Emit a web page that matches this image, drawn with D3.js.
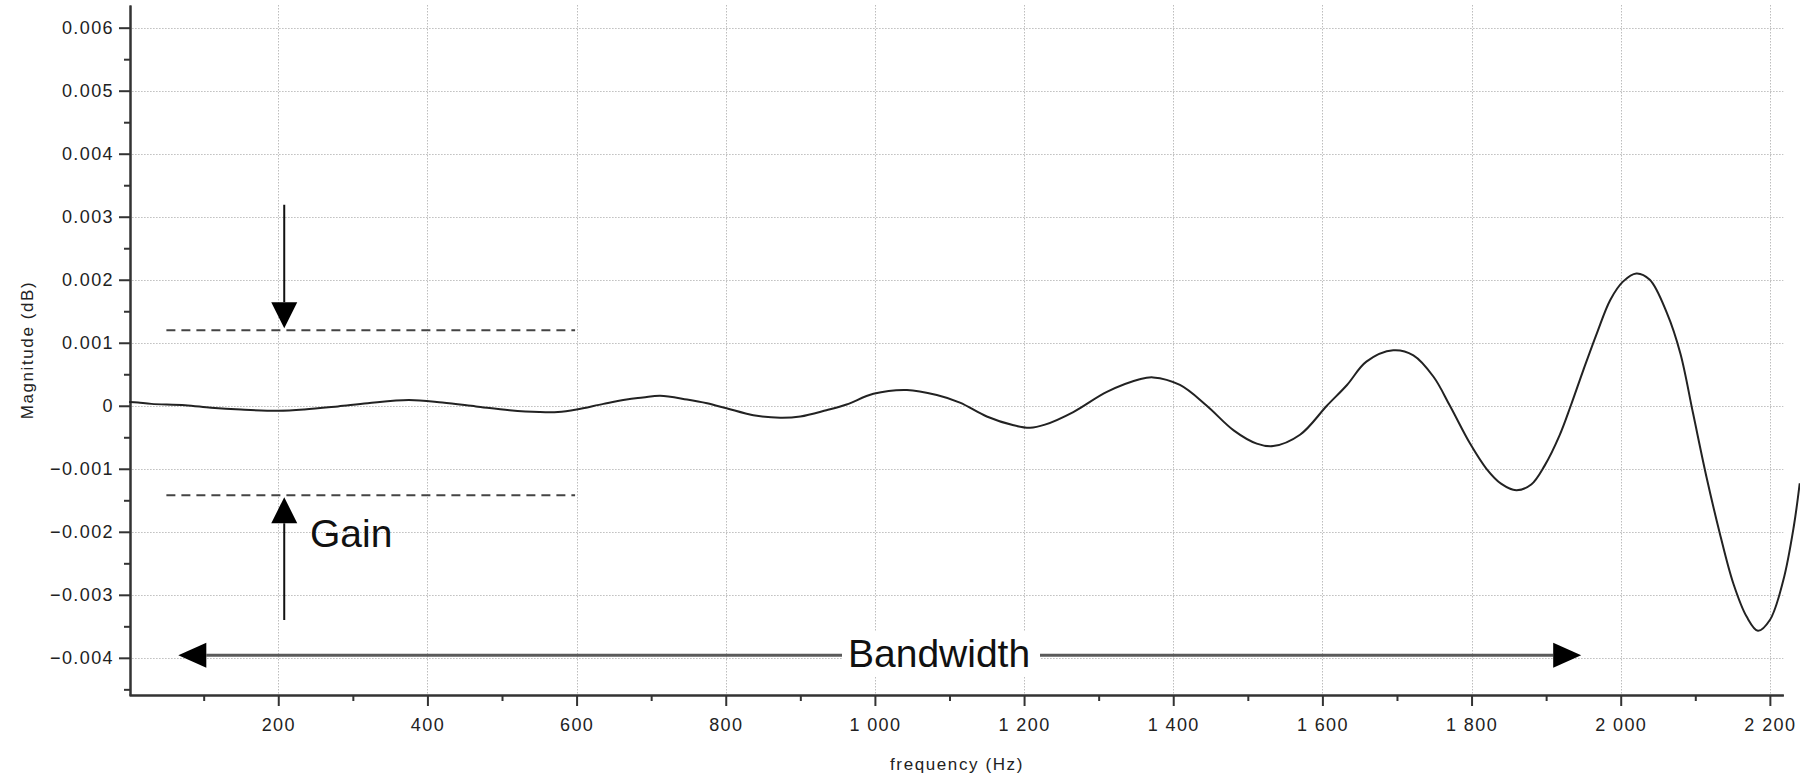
<!DOCTYPE html>
<html>
<head>
<meta charset="utf-8">
<script src="https://cdn.jsdelivr.net/npm/d3@7"></script>
<style>
  body { margin: 0; background: #fff; }
  svg { display: block; }
  .tick text { font-family: "Liberation Sans", Arial, sans-serif; font-size: 18px; fill: #222; letter-spacing: 1.4px; }
</style>
</head>
<body>
<svg id="chart"></svg>
<script>
// frequency response samples
const freq = [0, 12, 30, 75, 110, 150, 200, 235, 280, 320, 375, 420, 465, 510, 550, 575, 600,
  636, 667, 689, 712, 748, 775, 801, 837, 873, 900, 935, 962, 998, 1043, 1083, 1114, 1150,
  1186, 1208, 1228, 1266, 1311, 1355, 1373, 1409, 1445, 1481, 1512, 1534, 1570, 1606, 1633,
  1659, 1695, 1722, 1749, 1771, 1798, 1820, 1840, 1860, 1880, 1898, 1918, 1933, 1950, 1968,
  1986, 2003, 2021, 2039, 2062, 2080, 2097, 2115, 2133, 2151, 2169, 2184, 2200, 2218, 2232, 2240];
const magnitude = [0.00006, 0.00005, 0.00003, 0.00001, -0.00003, -0.00006, -0.00008, -0.00006,
  -0.00001, 0.00004, 0.00009, 0.00005, -0.00001, -0.00007, -0.0001, -0.0001, -0.00006,
  0.00003, 0.0001, 0.00013, 0.00016, 0.0001, 0.00004, -0.00004, -0.00015, -0.00019, -0.00017,
  -0.00007, 0.00002, 0.00019, 0.00025, 0.00017, 0.00005, -0.00017, -0.00031, -0.00035, -0.0003,
  -0.0001, 0.00022, 0.00042, 0.00045, 0.00033, 0.0, -0.00039, -0.0006, -0.00064, -0.00046, 0.0,
  0.00033, 0.0007, 0.00088, 0.0008, 0.00046, 0.0, -0.0006, -0.001, -0.00124, -0.00134, -0.00125,
  -0.00095, -0.00047, 0.0, 0.00057, 0.00115, 0.00168, 0.00197, 0.0021, 0.002, 0.00147, 0.00083,
  -0.00012, -0.00113, -0.00203, -0.00282, -0.00335, -0.00357, -0.0034, -0.00277, -0.00192, -0.00123];

const xTicks = [200, 400, 600, 800, 1000, 1200, 1400, 1600, 1800, 2000, 2200];
const xMinorTicks = [100, 300, 500, 700, 900, 1100, 1300, 1500, 1700, 1900, 2100];
const yTicks = [-0.004, -0.003, -0.002, -0.001, 0, 0.001, 0.002, 0.003, 0.004, 0.005, 0.006];
const yMinorTicks = [-0.0045, -0.0035, -0.0025, -0.0015, -0.0005, 0.0005, 0.0015, 0.0025, 0.0035, 0.0045, 0.0055];

// annotations: gain band and bandwidth arrow
const gainBand = [0.0012, -0.00142];
const gainBandFreq = [50, 598];
const gainArrowFreq = 208;
const gainArrowEnds = [0.00319, -0.0034];
const bandwidthFreq = [66, 1947];
const bandwidthLevel = -0.00396;

const width = 1800;
const height = 777;

const svg = d3.select("#chart").attr("width", width).attr("height", height);

const xScale = d3.scaleLinear().domain([0, 2218]).range([129.1, 1783.3]);
const yScale = d3.scaleLinear().domain([-0.00459, 0.00636]).range([695, 5]);

// dotted grid
const grid = svg.append("g").attr("stroke", "#bdbdbd").attr("stroke-width", 1).attr("stroke-dasharray", "1.5,1.5");
grid.selectAll(".vgrid")
  .data(xTicks)
  .enter()
  .append("line")
  .attr("x1", (d) => Math.round(xScale(d)) + 0.5)
  .attr("x2", (d) => Math.round(xScale(d)) + 0.5)
  .attr("y1", yScale.range()[1])
  .attr("y2", yScale.range()[0]);
grid.selectAll(".hgrid")
  .data(yTicks)
  .enter()
  .append("line")
  .attr("x1", xScale.range()[0])
  .attr("x2", xScale.range()[1])
  .attr("y1", (d) => Math.round(yScale(d)) + 0.5)
  .attr("y2", (d) => Math.round(yScale(d)) + 0.5);

// axes
const fmtX = (d) => d3.format(",")(d).replace(",", " ");
const fmtY = (d) => (d === 0 ? "0" : d3.format(".3f")(d));

svg.append("g")
  .attr("transform", `translate(0,695)`)
  .call(d3.axisBottom(xScale).tickValues(xTicks).tickFormat(fmtX).tickSize(11).tickSizeOuter(0).tickPadding(12));
svg.append("g")
  .attr("transform", `translate(0,695)`)
  .call(d3.axisBottom(xScale).tickValues(xMinorTicks).tickFormat("").tickSize(6).tickSizeOuter(0));

svg.append("g")
  .attr("transform", `translate(130,0)`)
  .call(d3.axisLeft(yScale).tickValues(yTicks).tickFormat(fmtY).tickSize(11).tickSizeOuter(0).tickPadding(5));
svg.append("g")
  .attr("transform", `translate(130,0)`)
  .call(d3.axisLeft(yScale).tickValues(yMinorTicks).tickFormat("").tickSize(6).tickSizeOuter(0));

svg.selectAll(".domain").attr("stroke", "#333").attr("stroke-width", 2);
svg.selectAll(".tick line").attr("stroke", "#333").attr("stroke-width", 2);

// axis titles
svg.append("text")
  .attr("transform", "translate(33,350) rotate(-90)")
  .attr("text-anchor", "middle")
  .style("font-family", "Liberation Sans, Arial, sans-serif")
  .style("font-size", "17px")
  .style("letter-spacing", "1.6px")
  .attr("fill", "#222")
  .text("Magnitude (dB)");

svg.append("text")
  .attr("x", 957)
  .attr("y", 770)
  .attr("text-anchor", "middle")
  .style("font-family", "Liberation Sans, Arial, sans-serif")
  .style("font-size", "17px")
  .style("letter-spacing", "1.6px")
  .attr("fill", "#222")
  .text("frequency (Hz)");

// response curve
const points = freq.map((f, i) => ({ f: f, m: magnitude[i] }));
const line = d3.line()
  .x((d) => xScale(d.f))
  .y((d) => yScale(d.m))
  .curve(d3.curveCatmullRom.alpha(0.5));

svg.append("path")
  .datum(points)
  .attr("d", line)
  .attr("fill", "none")
  .attr("stroke", "#222")
  .attr("stroke-width", 2);

// gain band dashed lines
svg.selectAll(".gain-band")
  .data(gainBand)
  .enter()
  .append("line")
  .attr("x1", xScale(gainBandFreq[0]))
  .attr("x2", xScale(gainBandFreq[1]))
  .attr("y1", (d) => yScale(d))
  .attr("y2", (d) => yScale(d))
  .attr("stroke", "#444")
  .attr("stroke-width", 2)
  .attr("stroke-dasharray", "9,6");

// arrow helper: shaft plus filled triangular head
function arrow(x1, y1, x2, y2, color, w, headLen, headHalf) {
  const ang = Math.atan2(y2 - y1, x2 - x1);
  const bx = x2 - headLen * Math.cos(ang);
  const by = y2 - headLen * Math.sin(ang);
  svg.append("line")
    .attr("x1", x1).attr("y1", y1)
    .attr("x2", bx).attr("y2", by)
    .attr("stroke", color)
    .attr("stroke-width", w);
  const px = -Math.sin(ang) * headHalf;
  const py = Math.cos(ang) * headHalf;
  svg.append("path")
    .attr("d", `M${x2},${y2}L${bx + px},${by + py}L${bx - px},${by - py}Z`)
    .attr("fill", "#000");
}

const gx = xScale(gainArrowFreq);
arrow(gx, yScale(gainArrowEnds[0]), gx, yScale(gainBand[0]) - 2, "#111", 2, 26, 13);
arrow(gx, yScale(gainArrowEnds[1]), gx, yScale(gainBand[1]) + 2, "#111", 2, 26, 13);

svg.append("text")
  .attr("x", 310)
  .attr("y", 546.5)
  .style("font-family", "Liberation Sans, Arial, sans-serif")
  .style("font-size", "39px")
  .attr("fill", "#111")
  .text("Gain");

// bandwidth double arrow with label on a white box
const by0 = yScale(bandwidthLevel);
const bmid = (xScale(bandwidthFreq[0]) + xScale(bandwidthFreq[1])) / 2;
arrow(bmid, by0, xScale(bandwidthFreq[0]), by0, "#5a5a5a", 3, 28, 12.5);
arrow(bmid, by0, xScale(bandwidthFreq[1]), by0, "#5a5a5a", 3, 28, 12.5);

svg.append("rect")
  .attr("x", 842)
  .attr("y", 632)
  .attr("width", 198)
  .attr("height", 44)
  .attr("fill", "#fff");

svg.append("text")
  .attr("x", 848)
  .attr("y", 666.5)
  .style("font-family", "Liberation Sans, Arial, sans-serif")
  .style("font-size", "39px")
  .attr("fill", "#111")
  .text("Bandwidth");
</script>
</body>
</html>
